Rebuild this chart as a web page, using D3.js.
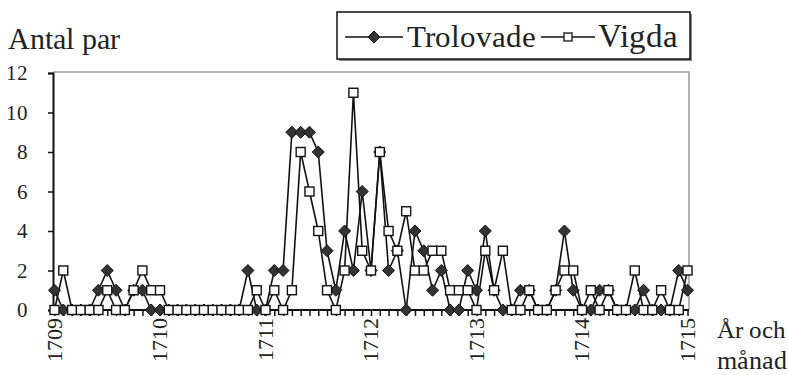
<!DOCTYPE html>
<html>
<head>
<meta charset="utf-8">
<script src="https://cdn.jsdelivr.net/npm/d3@7/dist/d3.min.js"></script>
<style>
  @font-face { font-family: "ChartSerif"; src: local("Liberation Serif"), local("LiberationSerif"), local("Liberation Serif Regular"), local("LiberationSerif-Regular"); }
  html, body { margin: 0; padding: 0; background: #fff; }
  #chart text { font-family: "ChartSerif", "Liberation Serif", "Times New Roman", serif !important; }
</style>
</head>
<body>
<svg id="chart" width="788" height="375"></svg>
<script>
// Monthly counts, January 1709 through January 1715 (73 months)
const yearLabels = ["1709", "1710", "1711", "1712", "1713", "1714", "1715"];
const seriesNames = ["Trolovade", "Vigda"];
const trolovade = [
  1, 0, 0, 0, 0, 1, 2, 1, 0, 1, 1, 0,
  0, 0, 0, 0, 0, 0, 0, 0, 0, 0, 2, 0,
  0, 2, 2, 9, 9, 9, 8, 3, 1, 4, 2, 6,
  2, 8, 2, 3, 0, 4, 3, 1, 2, 0, 0, 2,
  1, 4, 1, 0, 0, 1, 1, 0, 0, 1, 4, 1,
  0, 0, 1, 1, 0, 0, 0, 1, 0, 0, 0, 2,
  1
];
const vigda = [
  0, 2, 0, 0, 0, 0, 1, 0, 0, 1, 2, 1,
  1, 0, 0, 0, 0, 0, 0, 0, 0, 0, 0, 1,
  0, 1, 0, 1, 8, 6, 4, 1, 0, 2, 11, 3,
  2, 8, 4, 3, 5, 2, 2, 3, 3, 1, 1, 1,
  0, 3, 1, 3, 0, 0, 1, 0, 0, 1, 2, 2,
  0, 1, 0, 1, 0, 0, 2, 0, 0, 1, 0, 0,
  2
];
const yTicks = [0, 2, 4, 6, 8, 10, 12];

const svg = d3.select("#chart");
const plot = { left: 53, right: 689, top: 72, bottom: 310 };

const x = d3.scaleLinear().domain([0, trolovade.length - 1]).range([54.5, 687.5]);
const y = d3.scaleLinear().domain([0, 12]).range([plot.bottom, 73]);

const label = (sel, size) => sel.attr("font-size", size).attr("fill", "#222");

// plot frame: grey top and right edges
svg.append("path")
  .attr("d", `M${plot.left},${plot.top}H${plot.right}V${plot.bottom}`)
  .attr("fill", "none").attr("stroke", "#9a9a9a").attr("stroke-width", 1.5);

// y axis
const yAxis = d3.axisLeft(y).tickValues(yTicks).tickSize(5).tickPadding(20).tickFormat(d3.format("d"));
const gy = svg.append("g").attr("transform", `translate(${plot.left},0)`).call(yAxis);
gy.attr("font-family", null).attr("font-size", 21);
gy.select(".domain").attr("fill", "none").attr("stroke", "#111").attr("stroke-width", 2);
gy.selectAll(".tick line").attr("stroke", "#111").attr("stroke-width", 1.5);
gy.selectAll(".tick text").call(label, 21);

// x axis: a tick under every month
const months = d3.range(trolovade.length);
const xAxis = d3.axisBottom(x).tickValues(months).tickSize(6).tickFormat("");
const gx = svg.append("g").attr("transform", `translate(0,${plot.bottom})`).call(xAxis);
gx.attr("font-family", null);
gx.select(".domain").attr("d", `M${plot.left},0H${plot.right}`).attr("fill", "none")
  .attr("stroke", "#111").attr("stroke-width", 2);
gx.selectAll(".tick line").attr("stroke", "#111").attr("stroke-width", 1.5);

// rotated year labels at each January
svg.append("g").selectAll("text")
  .data(yearLabels)
  .join("text")
  .attr("transform", (d, i) => `translate(${x(i * 12) + 7},318) rotate(-90)`)
  .attr("text-anchor", "end")
  .call(label, 22)
  .text(d => d);

// lines
const line = d3.line().x((d, i) => x(i)).y(d => y(d));
svg.append("path").datum(trolovade).attr("d", line)
  .attr("fill", "none").attr("stroke", "#111").attr("stroke-width", 1.6);
svg.append("path").datum(vigda).attr("d", line)
  .attr("fill", "none").attr("stroke", "#111").attr("stroke-width", 1.6);

// markers
const diamond = r => `M0,${-r}L${r},0L0,${r}L${-r},0Z`;
svg.append("g").selectAll("path")
  .data(trolovade)
  .join("path")
  .attr("transform", (d, i) => `translate(${x(i)},${y(d)})`)
  .attr("d", diamond(6))
  .attr("fill", "#333").attr("stroke", "#111").attr("stroke-width", 1);

svg.append("g").selectAll("rect")
  .data(vigda)
  .join("rect")
  .attr("x", (d, i) => x(i) - 4.5)
  .attr("y", d => y(d) - 4.5)
  .attr("width", 9).attr("height", 9)
  .attr("fill", "#fff").attr("stroke", "#111").attr("stroke-width", 1.4);

// axis titles
svg.append("text").attr("x", 8).attr("y", 49).call(label, 30).text("Antal par");
svg.append("text").attr("x", 717).attr("y", 338).call(label, 25).text("År och");
svg.append("text").attr("x", 717).attr("y", 369).call(label, 26).text("månad");

// legend
const lg = svg.append("g");
lg.append("rect").attr("x", 339).attr("y", 14).attr("width", 353).attr("height", 47).attr("fill", "#888");
lg.append("rect").attr("x", 337).attr("y", 12).attr("width", 353).attr("height", 47)
  .attr("fill", "#fff").attr("stroke", "#111").attr("stroke-width", 1.5);
const ly = 37;
lg.append("line").attr("x1", 345).attr("x2", 403).attr("y1", ly).attr("y2", ly)
  .attr("stroke", "#111").attr("stroke-width", 1.6);
lg.append("path").attr("transform", `translate(374,${ly})`).attr("d", diamond(6))
  .attr("fill", "#333").attr("stroke", "#111");
lg.append("text").attr("x", 407).attr("y", 47).call(label, 31).text(seriesNames[0]);
lg.append("line").attr("x1", 541).attr("x2", 595).attr("y1", ly).attr("y2", ly)
  .attr("stroke", "#111").attr("stroke-width", 1.6);
lg.append("rect").attr("x", 564).attr("y", ly - 4).attr("width", 8).attr("height", 8)
  .attr("fill", "#fff").attr("stroke", "#111").attr("stroke-width", 1.3);
lg.append("text").attr("x", 598).attr("y", 47).call(label, 33).text(seriesNames[1]);
</script>
</body>
</html>
